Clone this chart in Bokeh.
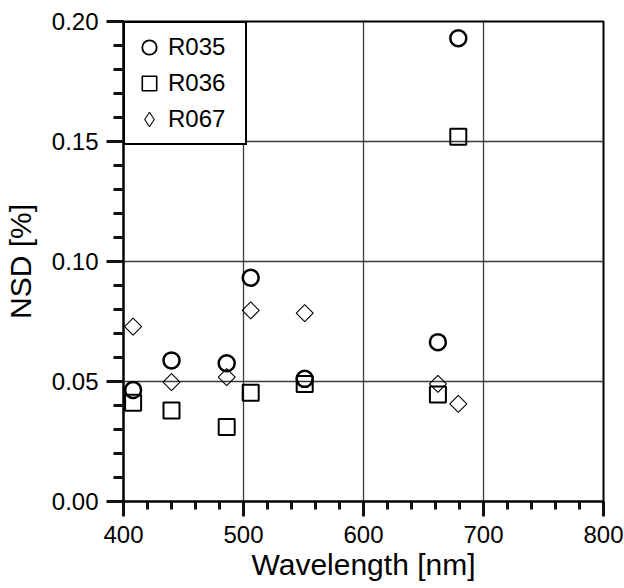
import numpy as np
from bokeh.plotting import figure
from bokeh.models import (Range1d, SingleIntervalTicker, NumeralTickFormatter, Legend,
                          LegendItem, ColumnDataSource)
from bokeh.embed import file_html
from bokeh.resources import INLINE

# ---- data ----
wavelength = [408, 440, 486, 506, 551, 662, 679]
r035 = [0.0465, 0.0588, 0.0576, 0.0932, 0.0511, 0.0664, 0.193]
r036 = [0.0411, 0.0379, 0.0310, 0.0453, 0.0490, 0.0446, 0.152]
r067 = [0.0729, 0.0497, 0.0518, 0.0796, 0.0785, 0.0490, 0.0407]
series_names = ["R035", "R036", "R067"]

FONT = "Liberation Sans"
TICK = "#111111"

p = figure(frame_width=480, frame_height=480, output_backend="svg", toolbar_location=None,
           x_range=Range1d(400, 800), y_range=Range1d(0, 0.2),
           min_border_left=0, min_border_right=21, min_border_top=21, min_border_bottom=0)
p.background_fill_color = "white"
p.border_fill_color = "white"
p.outline_line_color = "black"
p.outline_line_width = 2
p.outline_line_alpha = 1.0

p.xaxis.ticker = SingleIntervalTicker(interval=100, num_minor_ticks=5)
p.yaxis.ticker = SingleIntervalTicker(interval=0.05, num_minor_ticks=5)
p.yaxis.formatter = NumeralTickFormatter(format="0.00")

for ax in (p.xaxis[0], p.yaxis[0]):
    ax.axis_line_width = 2
    ax.axis_line_color = "black"
    ax.major_tick_line_width = 3
    ax.minor_tick_line_width = 3
    ax.major_tick_line_color = TICK
    ax.minor_tick_line_color = TICK
    ax.major_tick_in = 0
    ax.minor_tick_in = 0
    ax.major_label_text_font = FONT
    ax.major_label_text_font_size = "24px"
    ax.major_label_text_color = "black"
    ax.axis_label_text_font = FONT
    ax.axis_label_text_font_size = "30px"
    ax.axis_label_text_font_style = "normal"
    ax.axis_label_text_color = "black"

p.xaxis.major_tick_out = 15
p.xaxis.minor_tick_out = 8
p.xaxis.major_label_standoff = 9
p.xaxis.axis_label = "Wavelength [nm]"
p.xaxis.axis_label_standoff = 2

p.yaxis.major_tick_out = 17
p.yaxis.minor_tick_out = 10
p.yaxis.major_label_standoff = 8
p.yaxis.axis_label = "NSD [%]"
p.yaxis.axis_label_standoff = 12

p.grid.grid_line_color = "#3a3a3a"
p.grid.grid_line_width = 1.3

c = p.scatter(wavelength, r035, marker="circle", size=16, fill_color=None,
              line_color="black", line_width=2.5)
s = p.scatter(wavelength, r036, marker="square", size=16, fill_color=None,
              line_color="black", line_width=2)
d = p.scatter(wavelength, r067, marker="square", angle=np.pi / 4, size=12, fill_color=None,
              line_color="black", line_width=1.1)

# legend-only glyphs (no visible points in the plot)
nan_src = ColumnDataSource(data=dict(x=[np.nan], y=[np.nan]))
lc = p.scatter("x", "y", source=nan_src, marker="circle", fill_color=None,
               line_color="black", line_width=1.8)
ls = p.scatter("x", "y", source=nan_src, marker="square", fill_color=None,
               line_color="black", line_width=1.6)
ld = p.scatter("x", "y", source=nan_src, marker="diamond", fill_color=None,
               line_color="black", line_width=1.1)

legend = Legend(items=[LegendItem(label=series_names[0], renderers=[lc]),
                       LegendItem(label=series_names[1], renderers=[ls]),
                       LegendItem(label=series_names[2], renderers=[ld])],
                location="top_left", margin=0, padding=6, spacing=0,
                glyph_width=36, glyph_height=36, label_standoff=1,
                label_width=71, label_height=36,
                label_text_font=FONT, label_text_font_size="24px",
                label_text_color="black",
                border_line_color="black", border_line_width=2, border_line_alpha=1.0,
                background_fill_color="white", background_fill_alpha=1.0)
p.add_layout(legend)

open("out.html", "w").write(file_html(p, INLINE))
